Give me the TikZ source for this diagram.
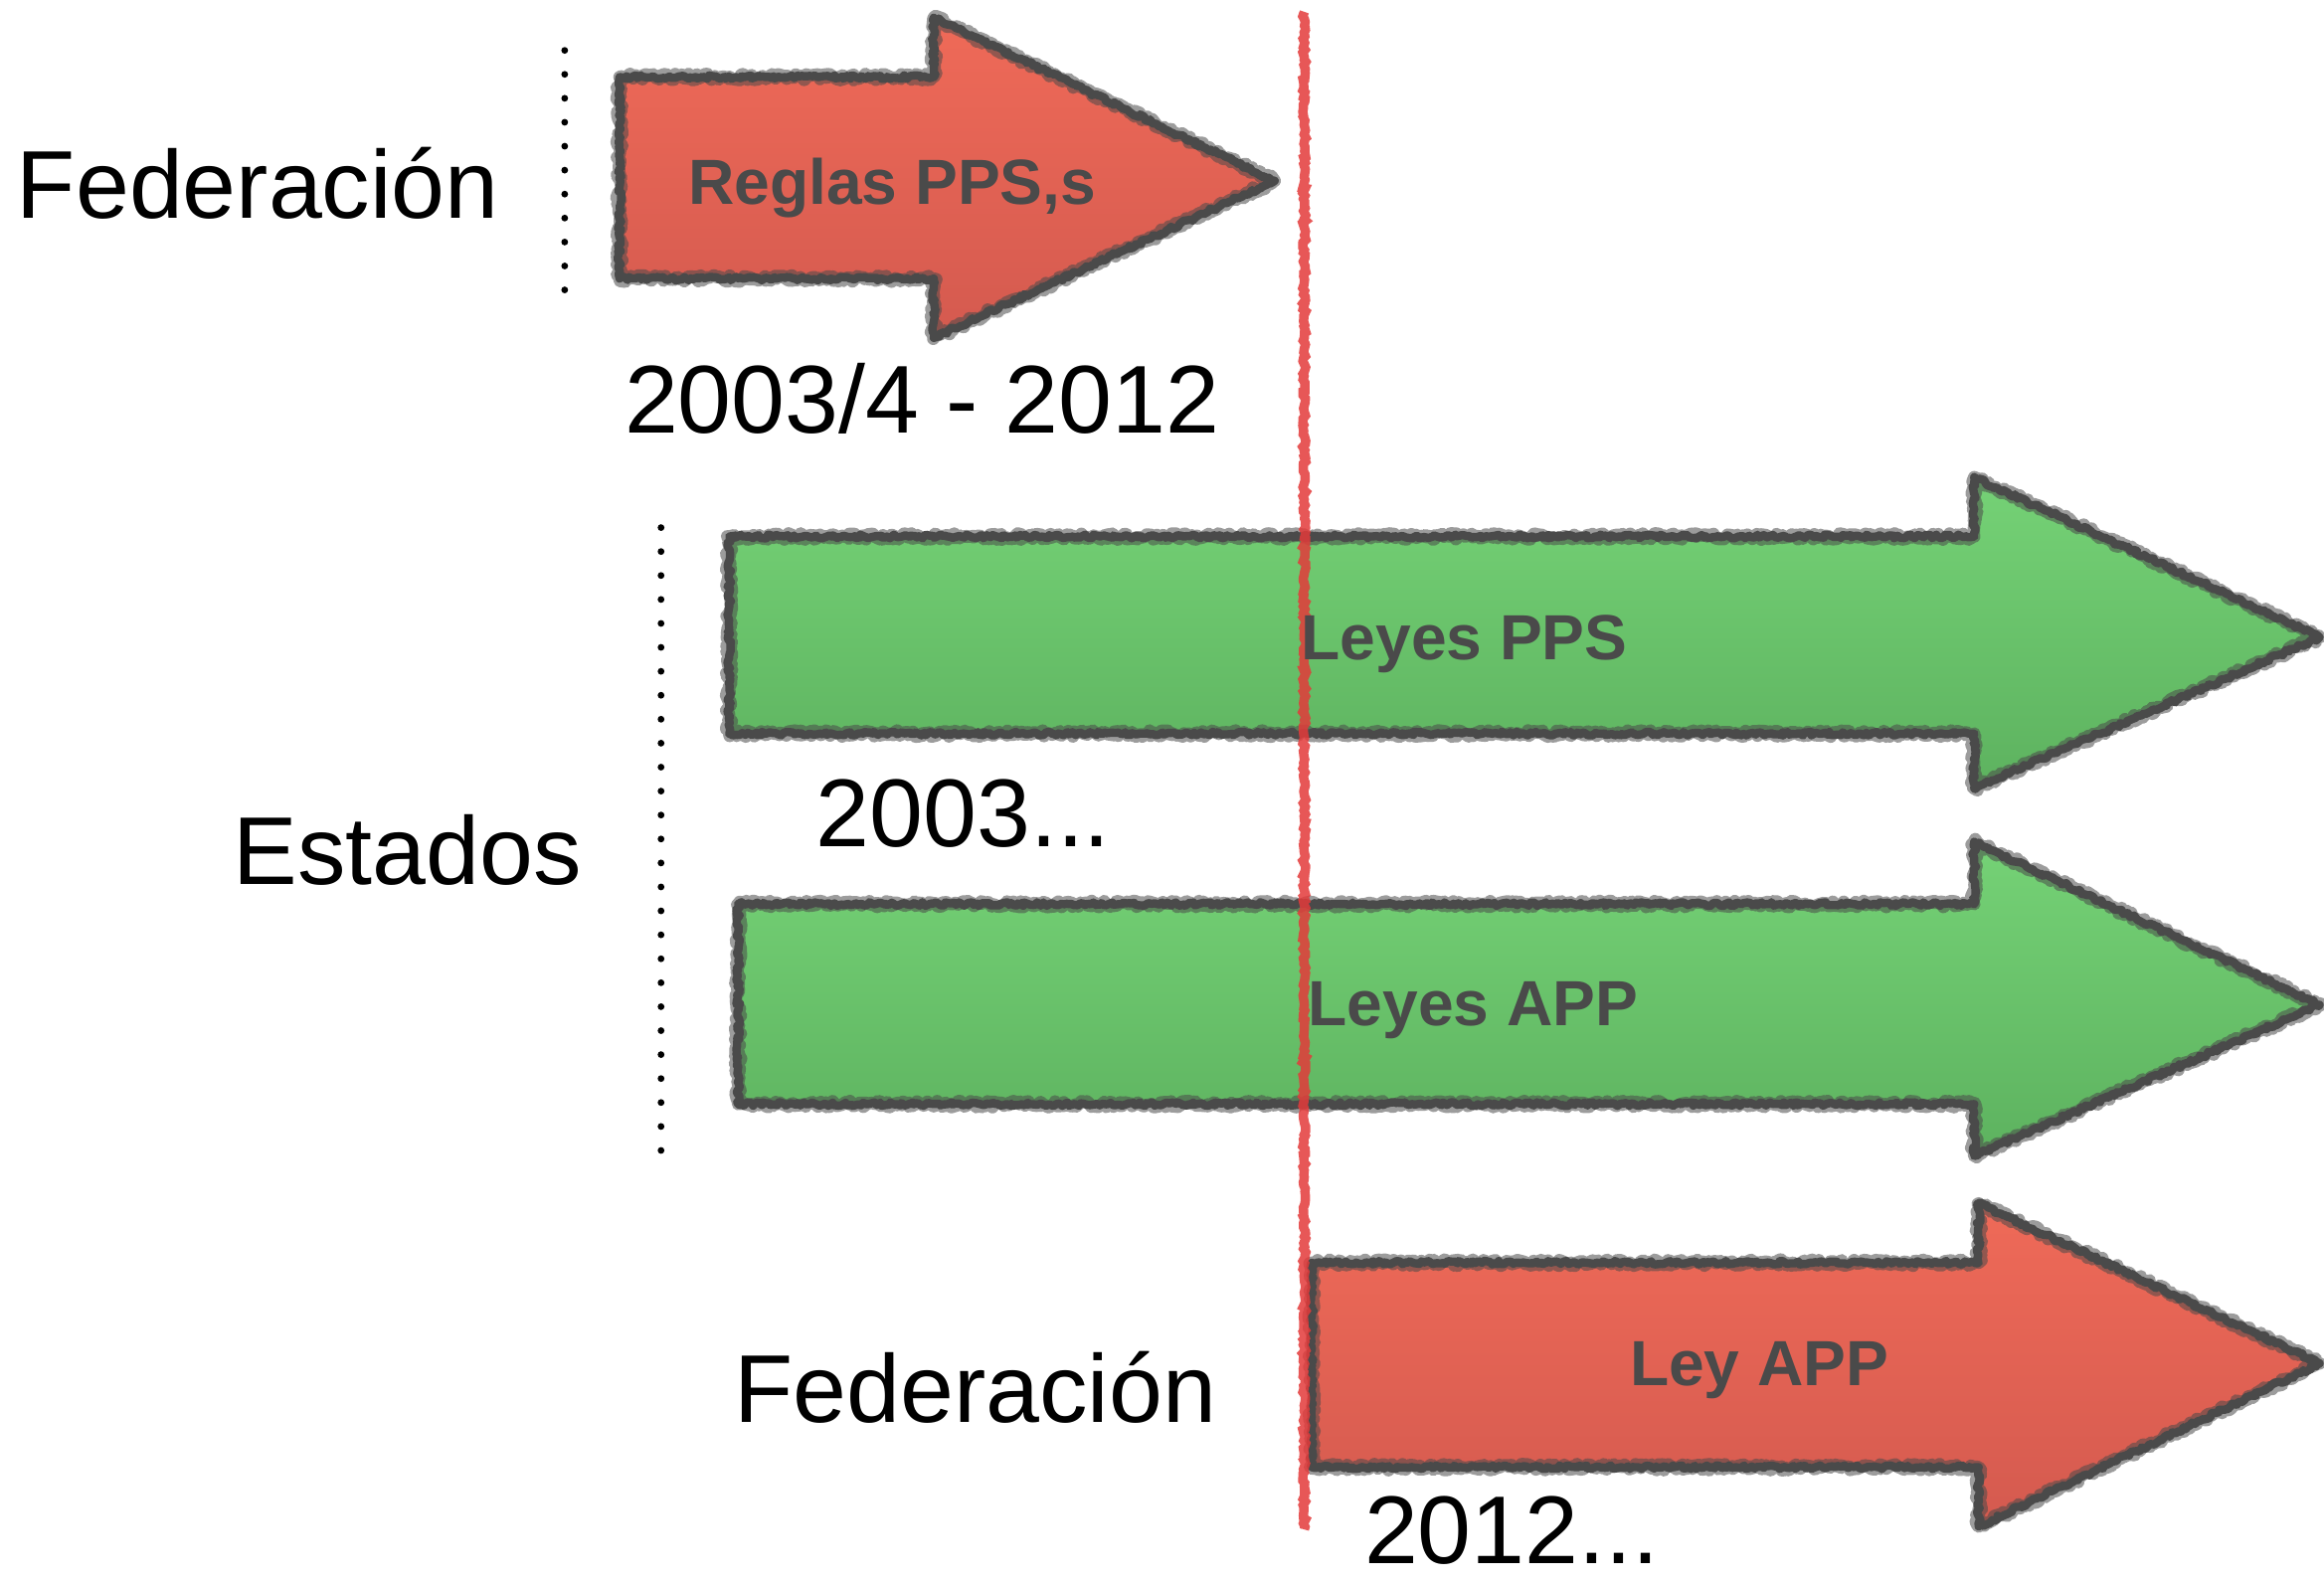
\documentclass[tikz,border=0pt]{standalone}
\usepackage{fontspec}
\setmainfont{Liberation Sans}
\usetikzlibrary{decorations.pathmorphing}
\definecolor{redtop}{HTML}{EF6A58}
\definecolor{redbot}{HTML}{D45A4F}
\definecolor{greentop}{HTML}{75D276}
\definecolor{greenbot}{HTML}{5DB25F}
\definecolor{edgegray}{HTML}{4A4A4A}
\definecolor{vline}{HTML}{E33A3A}
\begin{document}
\begin{tikzpicture}[x=0.02cm,y=-0.02cm,
  roughedge/.style={draw=edgegray, line width=3.2pt, line join=round,
    decorate, decoration={random steps, segment length=1.0pt, amplitude=0.7pt}},
  fuzzedge/.style={draw=edgegray, line width=4.8pt, line join=round, opacity=0.55,
    decorate, decoration={random steps, segment length=0.8pt, amplitude=1.2pt}},
  redfill/.style={top color=redtop, bottom color=redbot},
  greenfill/.style={top color=greentop, bottom color=greenbot},
  redline/.style={draw=vline, line width=3.6pt, opacity=0.85,
    decorate, decoration={random steps, segment length=1.2pt, amplitude=0.6pt}},
  dotline/.style={draw=black, line width=2.6pt, line cap=round, dash pattern=on 0pt off 9.2pt},
  bigtext/.style={font=\fontsize{37}{40}\selectfont, anchor=base, inner sep=0pt},
  arrowlabel/.style={font=\bfseries\fontsize{24.5}{27}\selectfont, text=edgegray, anchor=base, inner sep=0pt}]
\useasboundingbox (0,0) rectangle (1568,1067);
\pgfmathsetseed{7}
% Red top arrow
\path[redfill] (418,52) -- (630,52) -- (630,12) -- (860,122) -- (630,228) -- (630,188) -- (418,188) -- cycle;
\draw[fuzzedge] (418,52) -- (630,52) -- (630,12) -- (860,122) -- (630,228) -- (630,188) -- (418,188) -- cycle;
\draw[roughedge] (418,52) -- (630,52) -- (630,12) -- (860,122) -- (630,228) -- (630,188) -- (418,188) -- cycle;
% Green arrow 1
\path[greenfill] (492,362) -- (1332,362) -- (1332,322) -- (1565,430) -- (1332,532) -- (1332,495) -- (492,495) -- cycle;
\draw[fuzzedge] (492,362) -- (1332,362) -- (1332,322) -- (1565,430) -- (1332,532) -- (1332,495) -- (492,495) -- cycle;
\draw[roughedge] (492,362) -- (1332,362) -- (1332,322) -- (1565,430) -- (1332,532) -- (1332,495) -- (492,495) -- cycle;
% Green arrow 2
\path[greenfill] (498,610) -- (1332,610) -- (1332,568) -- (1565,678) -- (1332,780) -- (1332,745) -- (498,745) -- cycle;
\draw[fuzzedge] (498,610) -- (1332,610) -- (1332,568) -- (1565,678) -- (1332,780) -- (1332,745) -- (498,745) -- cycle;
\draw[roughedge] (498,610) -- (1332,610) -- (1332,568) -- (1565,678) -- (1332,780) -- (1332,745) -- (498,745) -- cycle;
% Red bottom arrow
\path[redfill] (885,852) -- (1335,852) -- (1335,812) -- (1565,920) -- (1335,1030) -- (1335,990) -- (885,990) -- cycle;
\draw[fuzzedge] (885,852) -- (1335,852) -- (1335,812) -- (1565,920) -- (1335,1030) -- (1335,990) -- (885,990) -- cycle;
\draw[roughedge] (885,852) -- (1335,852) -- (1335,812) -- (1565,920) -- (1335,1030) -- (1335,990) -- (885,990) -- cycle;
% vertical red line
\coordinate (lt) at (880,8);
\coordinate (lb) at (880,1032);
\draw[redline] (lt) -- (lb);
% dotted lines
\coordinate (d1t) at (381,34);
\coordinate (d1b) at (381,198);
\draw[dotline] (d1t) -- (d1b);
\coordinate (d2t) at (446,356);
\coordinate (d2b) at (446,778);
\draw[dotline] (d2t) -- (d2b);
% texts
\node[bigtext] (fed1) at (174,147) {Federación};
\node[bigtext] (y1) at (622,292) {2003/4 - 2012};
\node[bigtext] (est) at (275,597) {Estados};
\node[bigtext] (y2) at (650,571) {2003...};
\node[bigtext] (fed2) at (658,960) {Federación};
\node[bigtext] (y3) at (1020,1055) {2012...};
% arrow labels
\node[arrowlabel] (l1) at (602,138) {Reglas PPS,s};
\node[arrowlabel] (l2) at (988,445) {Leyes PPS};
\node[arrowlabel] (l3) at (994,692) {Leyes APP};
\node[arrowlabel] (l4) at (1187,935) {Ley APP};
\end{tikzpicture}
\end{document}
